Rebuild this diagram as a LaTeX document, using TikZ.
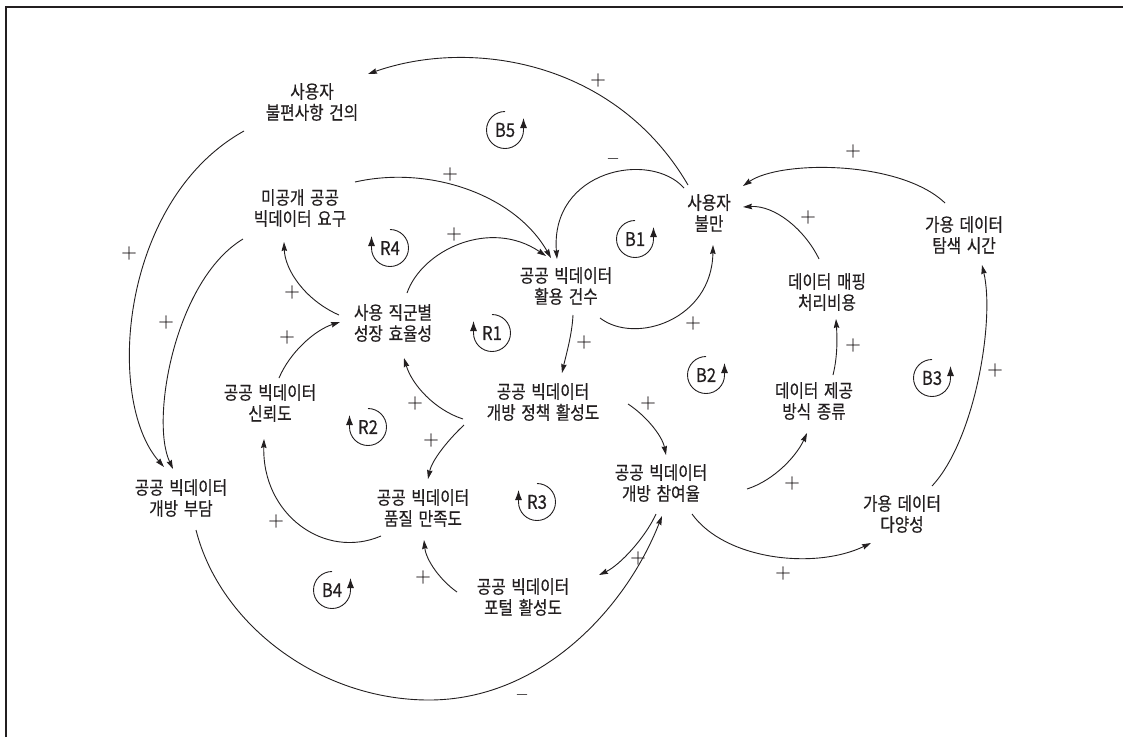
\documentclass[tikz,border=0pt]{standalone}
\usepackage{fontspec}
\newfontfamily\kr[FakeStretch=0.85,WordSpace=1.6,FakeBold=0.4]{Noto Sans CJK KR}
\newfontfamily\krl[FakeStretch=0.88,FakeBold=0.4]{Noto Sans CJK KR}
\newfontfamily\lmb[FakeBold=1.2]{Latin Modern Roman}
\newfontfamily\lmp[FakeBold=0.7]{Latin Modern Roman}
\usetikzlibrary{arrows.meta}
\definecolor{ink}{HTML}{231F20}
\tikzset{
  var/.style={align=center, font=\fontsize{18.5}{21}\kr, text=ink, inner sep=0pt},
  sgn/.style={font=\fontsize{21}{21}\lmp, text=ink, inner sep=0pt},
  msgn/.style={font=\fontsize{21}{21}\lmb, text=ink, inner sep=0pt},
  lp/.style={font=\fontsize{19}{19}\krl, text=ink, inner sep=0pt},
  cl/.style={draw=ink, line width=0.9pt, -{Stealth[length=9pt,width=5.5pt,inset=1pt]}},
  loopline/.style={draw=ink, line width=0.9pt, -{Latex[length=10pt,width=7pt]}},
  bloop/.style={insert path={([shift={(90:18.5pt)}]#1.center) arc[start angle=90, end angle=360, radius=18.5pt] -- ++(0,-12)}},
  rloop/.style={insert path={([shift={(90:18.5pt)}]#1.center) arc[start angle=90, end angle=-180, radius=18.5pt] -- ++(0,-12)}},
}
\begin{document}
\begin{tikzpicture}[x=1pt,y=-1pt]
\path[fill=white,use as bounding box] (0,0) rectangle (1123,737);
\draw[ink,line width=1.8pt] (6,737) -- (6,7) -- (1123,7);

% variables
\node[var] (A) at (312,102) {사용자\\불편사항 건의};
\node[var] (B) at (300,208) {미공개 공공\\빅데이터 요구};
\node[var] (C) at (393,323) {사용 직군별\\성장 효율성};
\node[var] (D) at (566,286) {공공 빅데이터\\활용 건수};
\node[var] (E) at (709,213) {사용자\\불만};
\node[var] (F) at (964,235) {가용 데이터\\탐색 시간};
\node[var] (G) at (827,292) {데이터 매핑\\처리비용};
\node[var] (H) at (543,402) {공공 빅데이터\\개방 정책 활성도};
\node[var] (I) at (270,403) {공공 빅데이터\\신뢰도};
\node[var] (J) at (814,401) {데이터 제공\\방식 종류};
\node[var] (K) at (661,483) {공공 빅데이터\\개방 참여율};
\node[var] (L) at (181,498) {공공 빅데이터\\개방 부담};
\node[var] (M) at (423,508) {공공 빅데이터\\품질 만족도};
\node[var] (N) at (902,514) {가용 데이터\\다양성};
\node[var] (O) at (523,597) {공공 빅데이터\\포털 활성도};

% loop markers
\node[lp] (B5) at (505,130) {B5};
\node[lp] (R4) at (390,248) {R4};
\node[lp] (R1) at (492,333) {R1};
\node[lp] (B1) at (635,239) {B1};
\node[lp] (B2) at (706,375) {B2};
\node[lp] (B3) at (932,378) {B3};
\node[lp] (R2) at (368,427) {R2};
\node[lp] (R3) at (537,502) {R3};
\node[lp] (B4) at (332,590) {B4};
\draw[loopline, bloop=B5];
\draw[loopline, rloop=R4];
\draw[loopline, rloop=R1];
\draw[loopline, bloop=B1];
\draw[loopline, bloop=B2];
\draw[loopline, bloop=B3];
\draw[loopline, rloop=R2];
\draw[loopline, rloop=R3];
\draw[loopline, bloop=B4];

% connectors
\draw[cl] ([shift={(-21,-28)}]E.center) .. controls (615,60) and (470,38) .. ([shift={(56,-28)}]A.center);
\draw[cl] ([shift={(-25,-25)}]E.center) .. controls (650,150) and (550,170) .. ([shift={(-9,-27)}]D.center);
\draw[cl] ([shift={(55,-26)}]B.center) .. controls (430,165) and (515,195) .. ([shift={(-15,-28)}]D.center);
\draw[cl] ([shift={(14,-30)}]C.center) .. controls (422,250) and (490,218) .. ([shift={(-20,-30)}]D.center);
\draw[cl] ([shift={(-68,29)}]A.center) .. controls (120,200) and (105,400) .. ([shift={(-17,-31)}]L.center);
\draw[cl] ([shift={(-57,31)}]B.center) .. controls (175,280) and (150,420) .. ([shift={(-8,-29)}]L.center);
\draw[cl] ([shift={(-54,-8)}]C.center) .. controls (305,300) and (285,270) .. ([shift={(-16,34)}]B.center);
\draw[cl] ([shift={(9,-25)}]I.center) .. controls (290,352) and (315,330) .. ([shift={(-53,-1)}]C.center);
\draw[cl] ([shift={(34,32)}]D.center) .. controls (635,345) and (712,320) .. ([shift={(4,32)}]E.center);
\draw[cl] ([shift={(7,29)}]D.center) .. controls (572,335) and (566,355) .. ([shift={(19,-29)}]H.center);
\draw[cl] ([shift={(-19,-32)}]F.center) .. controls (900,160) and (780,160) .. ([shift={(34,-27)}]E.center);
\draw[cl] ([shift={(-8,-33)}]G.center) .. controls (805,230) and (775,205) .. ([shift={(34,-6)}]E.center);
\draw[cl] ([shift={(19,-26)}]J.center) .. controls (838,355) and (837,335) .. ([shift={(9,27)}]G.center);
\draw[cl] ([shift={(30,-28)}]N.center) .. controls (975,440) and (995,320) .. ([shift={(18,30)}]F.center);
\draw[cl] ([shift={(-80,17)}]H.center) .. controls (435,410) and (412,385) .. ([shift={(11,35)}]C.center);
\draw[cl] ([shift={(-79,23)}]H.center) .. controls (448,440) and (432,460) .. ([shift={(5,-29)}]M.center);
\draw[cl] ([shift={(-42,28)}]M.center) .. controls (325,560) and (262,515) .. ([shift={(-6,36)}]I.center);
\draw[cl] ([shift={(15,32)}]L.center) .. controls (220,625) and (320,700) .. (429,700) .. controls (540,700) and (625,610) .. ([shift={(1,33)}]K.center);
\draw[cl] ([shift={(-66,-5)}]O.center) .. controls (440,580) and (426,560) .. ([shift={(1,32)}]M.center);
\draw[cl] ([shift={(-5,31)}]K.center) .. controls (645,538) and (620,565) .. ([shift={(76,-22)}]O.center);
\draw[cl] ([shift={(85,2)}]H.center) .. controls (645,415) and (662,435) .. ([shift={(5,-28)}]K.center);
\draw[cl] ([shift={(86,6)}]K.center) .. controls (775,480) and (797,455) .. ([shift={(-7,32)}]J.center);
\draw[cl] ([shift={(31,31)}]K.center) .. controls (725,560) and (815,570) .. ([shift={(-31,29)}]N.center);

% polarity signs
\node[sgn] (s1) at (598,80) {+};
\node[msgn] (s2) at (613,161) {–};
\node[sgn] (s3) at (853,151) {+};
\node[sgn] (s4) at (450,174) {+};
\node[sgn] (s5) at (454,234) {+};
\node[sgn] (s6) at (808,217) {+};
\node[sgn] (s7) at (129,253) {+};
\node[sgn] (s8) at (166,322) {+};
\node[sgn] (s9) at (292,292) {+};
\node[sgn] (s10) at (287,337) {+};
\node[sgn] (s11) at (693,323) {+};
\node[sgn] (s12) at (584,342) {+};
\node[sgn] (s13) at (853,345) {+};
\node[sgn] (s14) at (995,370) {+};
\node[sgn] (s15) at (415,403) {+};
\node[sgn] (s16) at (431,440) {+};
\node[sgn] (s17) at (648,403) {+};
\node[sgn] (s18) at (276,521) {+};
\node[sgn] (s19) at (792,483) {+};
\node[sgn] (s20) at (638,558) {+};
\node[sgn] (s21) at (423,577) {+};
\node[sgn] (s22) at (783,573) {+};
\node[msgn] (s23) at (522,697) {–};
\end{tikzpicture}
\end{document}
